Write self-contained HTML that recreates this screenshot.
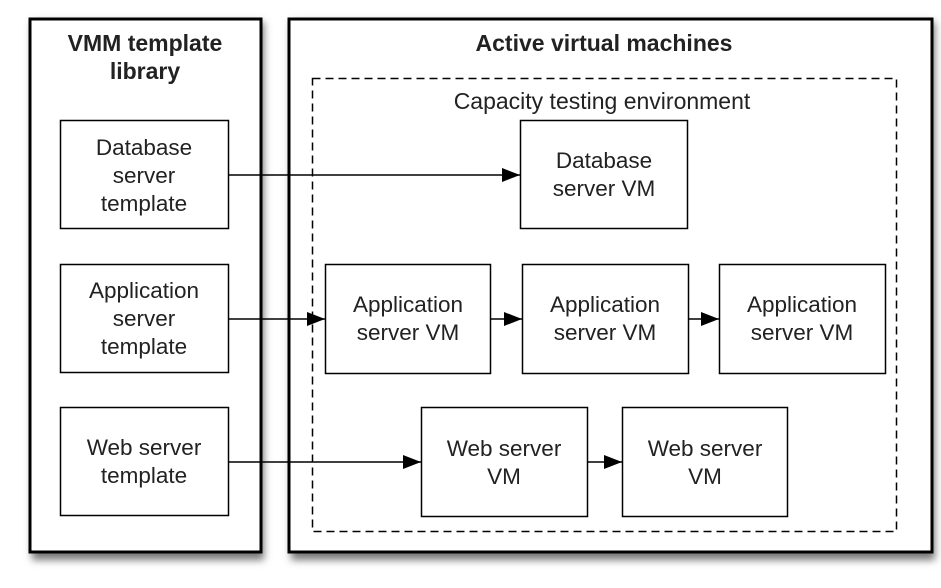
<!DOCTYPE html>
<html><head><style>
body{margin:0;background:#fff;}
svg{display:block;font-family:"Liberation Sans",Arial,sans-serif;}
</style></head><body>
<svg width="941" height="588" viewBox="0 0 941 588">
<defs>
<filter id="sh" x="-10%" y="-10%" width="120%" height="120%"><feGaussianBlur stdDeviation="4"/></filter>
<marker id="ar" markerWidth="18" markerHeight="14" refX="18" refY="7" orient="auto" markerUnits="userSpaceOnUse"><path d="M0,0 L18,7 L0,14 z" fill="#000"/></marker>
</defs>
<rect x="32" y="22" width="232" height="538" fill="#777" filter="url(#sh)"/>
<rect x="291" y="22" width="644" height="538" fill="#777" filter="url(#sh)"/>
<rect x="30" y="19" width="231" height="533" fill="#fff" stroke="#000" stroke-width="3"/>
<rect x="289" y="19" width="643" height="533" fill="#fff" stroke="#000" stroke-width="3"/>
<text x="145" y="51" font-size="23" font-weight="bold" text-anchor="middle" fill="#222">VMM template</text>
<text x="145" y="79" font-size="23" font-weight="bold" text-anchor="middle" fill="#222">library</text>
<text x="604" y="51" font-size="23" font-weight="bold" text-anchor="middle" fill="#222">Active virtual machines</text>
<rect x="312.5" y="78.5" width="584" height="453" fill="none" stroke="#000" stroke-width="1.5" stroke-dasharray="8,5"/>
<text x="602" y="109" font-size="23" text-anchor="middle" fill="#222">Capacity testing environment</text>
<g fill="#fff" stroke="#000" stroke-width="1.5">
<rect x="60.5" y="120.5" width="168" height="108"/>
<rect x="60.5" y="264.5" width="168" height="108"/>
<rect x="60.5" y="407.5" width="168" height="108"/>
<rect x="520.5" y="120.5" width="167" height="108"/>
<rect x="325.5" y="264.5" width="165" height="109"/>
<rect x="522.5" y="264.5" width="166" height="109"/>
<rect x="719.5" y="264.5" width="166" height="109"/>
<rect x="421.5" y="407.5" width="166" height="109"/>
<rect x="622.5" y="407.5" width="165" height="109"/>
</g>
<g stroke="#000" stroke-width="1.5" marker-end="url(#ar)">
<line x1="229" y1="175" x2="520" y2="175"/>
<line x1="229" y1="319" x2="325" y2="319"/>
<line x1="491" y1="319" x2="522" y2="319"/>
<line x1="689" y1="319" x2="719" y2="319"/>
<line x1="229" y1="462" x2="421" y2="462"/>
<line x1="588" y1="462" x2="622" y2="462"/>
</g>
<g font-size="22.5" text-anchor="middle" fill="#222">
<text x="144" y="155">Database</text><text x="144" y="183">server</text><text x="144" y="211">template</text>
<text x="144" y="298">Application</text><text x="144" y="326">server</text><text x="144" y="354">template</text>
<text x="144" y="455">Web server</text><text x="144" y="483">template</text>
<text x="604" y="168">Database</text><text x="604" y="196">server VM</text>
<text x="408" y="312">Application</text><text x="408" y="340">server VM</text>
<text x="605" y="312">Application</text><text x="605" y="340">server VM</text>
<text x="802" y="312">Application</text><text x="802" y="340">server VM</text>
<text x="504" y="456">Web server</text><text x="504" y="484">VM</text>
<text x="705" y="456">Web server</text><text x="705" y="484">VM</text>
</g>
</svg>
</body></html>
